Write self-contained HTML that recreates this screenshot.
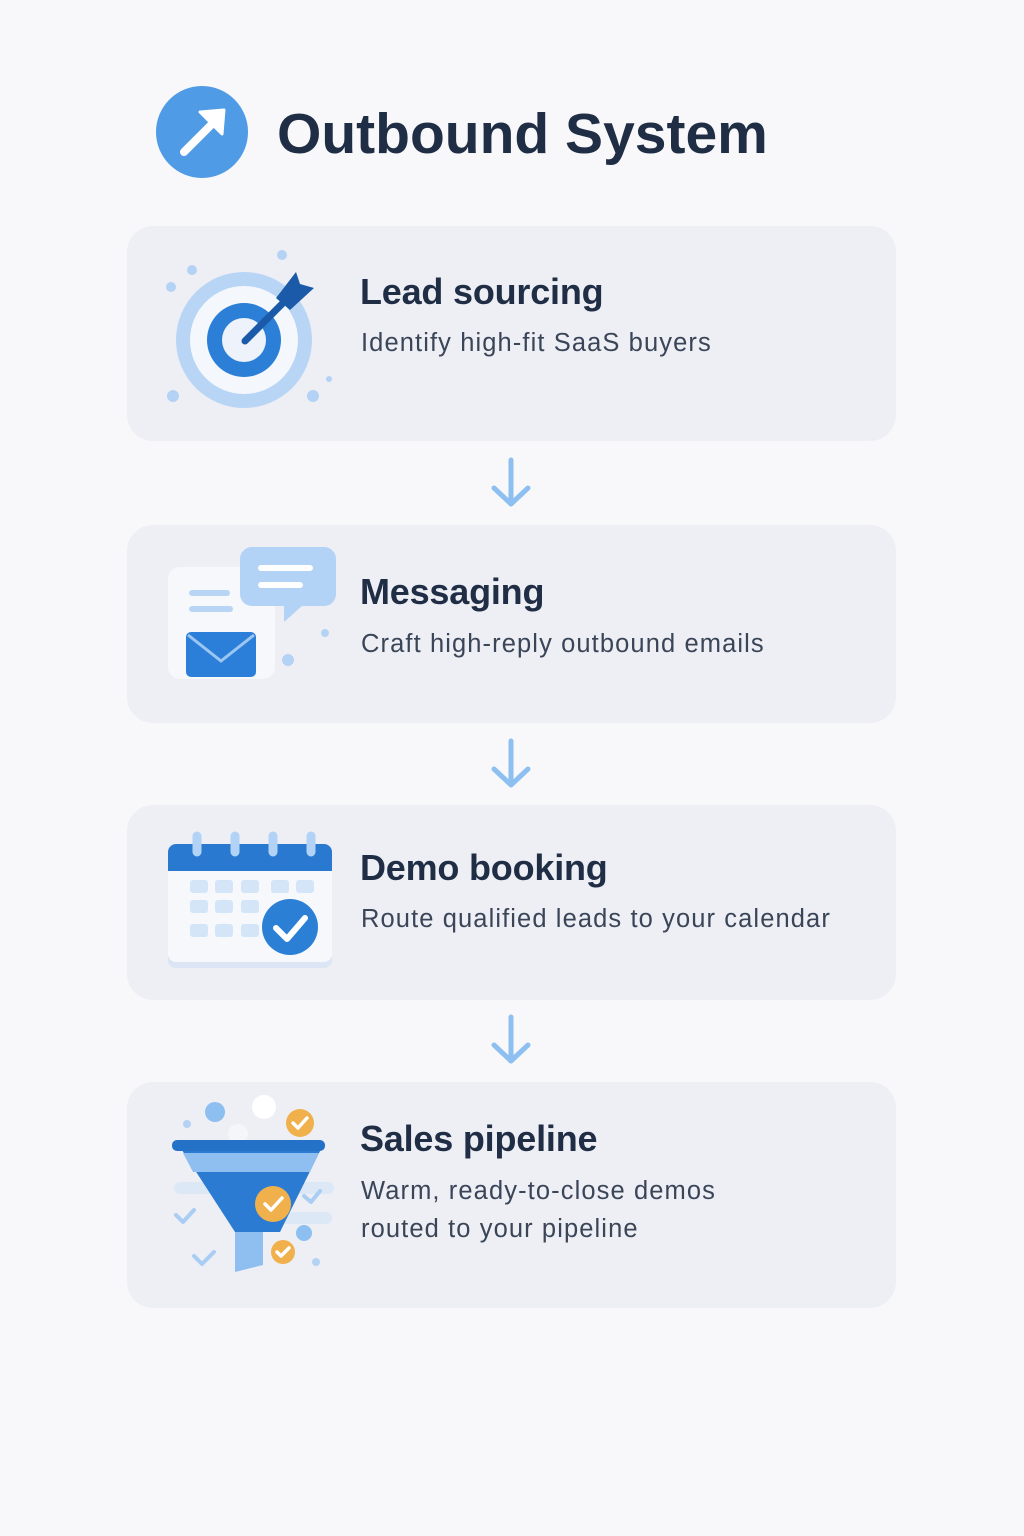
<!DOCTYPE html>
<html><head><meta charset="utf-8"><style>
body{margin:0;width:1024px;height:1536px;background:#f8f8fa;position:relative;font-family:"Liberation Sans",sans-serif;overflow:hidden}
.card{position:absolute;left:127px;width:769px;background:#eeeff5;border-radius:26px}
.t{position:absolute;left:360px;font-weight:bold;font-size:36px;color:#1f2d45;letter-spacing:-0.2px}
.s{position:absolute;left:361px;font-size:25.5px;color:#3a4558;line-height:38px;letter-spacing:1.1px}
svg{position:absolute}
</style></head><body>
<svg style="left:0;top:0" width="1024" height="1536">
<circle cx="202" cy="132" r="46" fill="#4f9be6"/>
<path d="M184 152 L212 124" stroke="#fff" stroke-width="8" fill="none" stroke-linecap="round"/>
<path d="M200 112 L224 110 L222 134 Z" fill="#fff" stroke="#fff" stroke-width="3" stroke-linejoin="round"/>
</svg>
<div style="position:absolute;left:277px;top:101px;font-size:57px;font-weight:bold;color:#1f2d45">Outbound System</div>

<div class="card" style="top:226px;height:215px"></div>
<div class="card" style="top:525px;height:198px"></div>
<div class="card" style="top:805px;height:195px"></div>
<div class="card" style="top:1082px;height:226px"></div>

<div class="t" style="top:271px">Lead sourcing</div>
<div class="s" style="top:324px">Identify high-fit SaaS buyers</div>
<div class="t" style="top:571px">Messaging</div>
<div class="s" style="top:625px">Craft high-reply outbound emails</div>
<div class="t" style="top:847px">Demo booking</div>
<div class="s" style="top:900px">Route qualified leads to your calendar</div>
<div class="t" style="top:1118px">Sales pipeline</div>
<div class="s" style="top:1172px">Warm, ready-to-close demos<br>routed to your pipeline</div>

<svg style="left:0;top:0" width="1024" height="1536">
<g stroke="#8dc0f0" stroke-width="5" fill="none" stroke-linecap="round" stroke-linejoin="round">
<path d="M511 460 V503 M494 488 L511 504 L528 488"/>
<path d="M511 741 V784 M494 769 L511 785 L528 769"/>
<path d="M511 1017 V1060 M494 1045 L511 1061 L528 1045"/>
</g>
<g fill="#b4d3f4"><circle cx="192" cy="270" r="5"/><circle cx="171" cy="287" r="5"/><circle cx="282" cy="255" r="5"/><circle cx="173" cy="396" r="6"/><circle cx="313" cy="396" r="6"/><circle cx="329" cy="379" r="3"/></g>
<circle cx="244" cy="340" r="68" fill="#b8d5f5"/>
<circle cx="244" cy="340" r="54" fill="#f4f7fc"/>
<circle cx="244" cy="340" r="37" fill="#2b7fd6"/>
<circle cx="244" cy="340" r="22" fill="#eef3fb"/>
<path d="M245 341 L292 294" stroke="#1b5aa8" stroke-width="7" stroke-linecap="round"/>
<path d="M276 298 L296 272 L300 284 L314 288 L290 310 Z" fill="#1b5aa8"/>
<rect x="168" y="567" width="107" height="112" rx="12" fill="#f6f8fc"/>
<rect x="189" y="590" width="41" height="6" rx="3" fill="#b8d5f5"/>
<rect x="189" y="606" width="44" height="6" rx="3" fill="#b8d5f5"/>
<path d="M252 547 H324 A12 12 0 0 1 336 559 V594 A12 12 0 0 1 324 606 H302 L284 622 V606 H252 A12 12 0 0 1 240 594 V559 A12 12 0 0 1 252 547Z" fill="#b2d3f5"/>
<rect x="258" y="565" width="55" height="6" rx="3" fill="#fff"/>
<rect x="258" y="582" width="45" height="6" rx="3" fill="#fff"/>
<circle cx="325" cy="633" r="4" fill="#b4d3f4"/><circle cx="288" cy="660" r="6" fill="#b4d3f4"/>
<rect x="186" y="632" width="70" height="45" rx="5" fill="#2c7fd8"/>
<path d="M188 635 L221 661 L254 635" stroke="#9cc6f2" stroke-width="3" fill="none"/>
<rect x="168" y="846" width="164" height="122" rx="8" fill="#dbe5f3"/>
<rect x="168" y="844" width="164" height="118" rx="8" fill="#f6f8fc"/>
<path d="M176 844 H324 A8 8 0 0 1 332 852 V871 H168 V852 A8 8 0 0 1 176 844Z" fill="#2a79d0"/>
<g stroke="#b2d3f5" stroke-width="9" stroke-linecap="round"><path d="M197 836 V852 M235 836 V852 M273 836 V852 M311 836 V852"/></g>
<g fill="#d4e5f8"><rect x="190" y="880" width="18" height="13" rx="3"/><rect x="215" y="880" width="18" height="13" rx="3"/><rect x="241" y="880" width="18" height="13" rx="3"/><rect x="271" y="880" width="18" height="13" rx="3"/><rect x="296" y="880" width="18" height="13" rx="3"/>
<rect x="190" y="900" width="18" height="13" rx="3"/><rect x="215" y="900" width="18" height="13" rx="3"/><rect x="241" y="900" width="18" height="13" rx="3"/>
<rect x="190" y="924" width="18" height="13" rx="3"/><rect x="215" y="924" width="18" height="13" rx="3"/><rect x="241" y="924" width="18" height="13" rx="3"/></g>
<circle cx="290" cy="927" r="28" fill="#2b80d6"/>
<path d="M276 928 L287 939 L305 918" stroke="#fff" stroke-width="6" fill="none" stroke-linecap="round" stroke-linejoin="round"/>
<circle cx="215" cy="1112" r="10" fill="#8dbff0"/><circle cx="264" cy="1107" r="12" fill="#fff"/><circle cx="238" cy="1134" r="10" fill="#f4f6fa"/><circle cx="187" cy="1124" r="4" fill="#b4d3f4"/>
<rect x="174" y="1182" width="160" height="12" rx="6" fill="#dde8f6"/><rect x="270" y="1212" width="62" height="12" rx="6" fill="#dde8f6"/>
<path d="M180 1147 H322 L280 1232 H235 Z" fill="#2b7bd2"/>
<path d="M183 1153 H319 L310 1172 H193 Z" fill="#8fbff0"/>
<rect x="172" y="1140" width="153" height="11" rx="5" fill="#2471c8"/>
<path d="M235 1232 H263 V1265 L235 1272Z" fill="#8fbff0"/>
<circle cx="300" cy="1123" r="14" fill="#f0b04c"/><circle cx="273" cy="1204" r="18" fill="#f0b04c"/><circle cx="283" cy="1252" r="12" fill="#f0b04c"/>
<g stroke="#fff" stroke-width="3.5" fill="none" stroke-linecap="round" stroke-linejoin="round"><path d="M293 1123 L298 1128 L307 1118"/><path d="M265 1204 L271 1210 L282 1198"/><path d="M277 1252 L281 1256 L289 1248"/></g>
<circle cx="304" cy="1233" r="8" fill="#8dbff0"/><circle cx="316" cy="1262" r="4" fill="#b4d3f4"/>
<g stroke="#a9cdf3" stroke-width="4" fill="none" stroke-linecap="round" stroke-linejoin="round"><path d="M176 1215 L183 1222 L194 1210"/><path d="M194 1256 L202 1264 L214 1252"/><path d="M304 1196 L311 1202 L320 1191"/></g>
</svg>
</body></html>
